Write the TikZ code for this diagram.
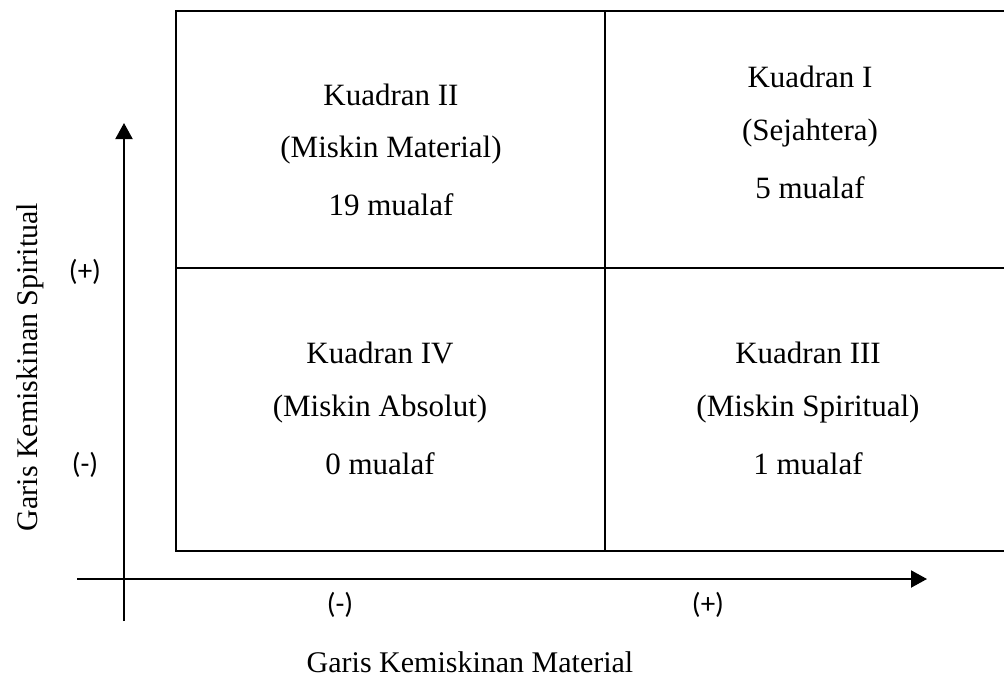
\documentclass[tikz,border=0pt]{standalone}
\usepackage{fontspec}
\setmainfont{Liberation Serif}
\newfontfamily\labelsans{Carlito}
\usetikzlibrary{arrows.meta}
\begin{document}
\begin{tikzpicture}[x=1pt,y=-1pt,
  line/.style={line width=2pt},
  axis/.style={line width=2pt,-{Triangle[length=16pt,width=17pt]}},
  qtext/.style={font=\fontsize{31}{36}\selectfont,align=center},
  sign/.style={font=\labelsans\fontsize{29}{34}\selectfont},
  axlabel/.style={font=\fontsize{30}{34}\selectfont}]
\useasboundingbox (0,0) rectangle (1004,677);
% grid box
\coordinate (tl) at (176,11);
\coordinate (tr) at (1004,11);
\coordinate (bl) at (176,551);
\coordinate (br) at (1004,551);
\coordinate (mt) at (605,11);
\coordinate (mb) at (605,551);
\coordinate (ml) at (176,268);
\coordinate (mr) at (1004,268);
\draw[line] (tr) -- (tl) -- (bl) -- (br);
\draw[line] (mt) -- (mb);
\draw[line] (ml) -- (mr);
% axes
\coordinate (ys) at (124,621);
\coordinate (ye) at (124,123);
\coordinate (xs) at (77,579);
\coordinate (xe) at (927,579);
\draw[axis] (ys) -- (ye);
\draw[axis] (xs) -- (xe);
% quadrant texts
\node[qtext] (q2a) at (391,95) {Kuadran II};
\node[qtext] (q2b) at (391,150) {(Miskin Material)};
\node[qtext] (q2c) at (391,205) {19 mualaf};
\node[qtext] (q1a) at (810,77) {Kuadran I};
\node[qtext] (q1b) at (810,133) {(Sejahtera)};
\node[qtext] (q1c) at (810,188) {5 mualaf};
\node[qtext] (q4a) at (380,353) {Kuadran IV};
\node[qtext] (q4b) at (380,409) {(Miskin Absolut)};
\node[qtext] (q4c) at (380,464) {0 mualaf};
\node[qtext] (q3a) at (808,353) {Kuadran III};
\node[qtext] (q3b) at (808,409) {(Miskin Spiritual)};
\node[qtext] (q3c) at (808,464) {1 mualaf};
% signs
\node[sign] (yp) at (85,272) {(+)};
\node[sign] (ym) at (85,465) {(-)};
\node[sign] (xm) at (340,605) {(-)};
\node[sign] (xp) at (708,605) {(+)};
% axis labels
\node[axlabel,rotate=90] (ylab) at (30,367) {Garis Kemiskinan Spiritual};
\node[axlabel] (xlab) at (470,662) {Garis Kemiskinan Material};
\end{tikzpicture}
\end{document}
